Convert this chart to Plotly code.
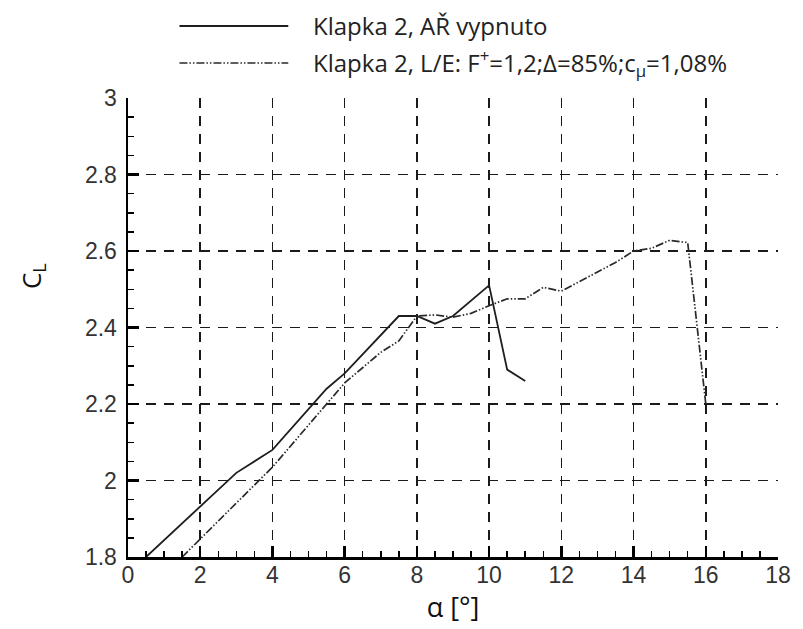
import plotly.graph_objects as go

# Lift coefficient vs. angle of attack for flap 2
alpha_off = [0.5, 3, 4, 5.5, 6, 6.5, 7, 7.5, 8, 8.5, 9, 9.5, 10, 10.5, 11]
cl_off = [1.80, 2.02, 2.08, 2.24, 2.28, 2.33, 2.38, 2.43, 2.43, 2.41, 2.43, 2.47, 2.51, 2.29, 2.26]

alpha_le = [1.5, 4, 5, 6, 7, 7.5, 8, 8.5, 9, 9.5, 10, 10.5, 11, 11.5, 12, 12.5, 13, 13.5,
            14, 14.5, 15, 15.5, 16]
cl_le = [1.80, 2.035, 2.145, 2.255, 2.335, 2.365, 2.43, 2.433, 2.427, 2.437, 2.457, 2.475,
         2.475, 2.505, 2.495, 2.52, 2.545, 2.57, 2.60, 2.607, 2.628, 2.622, 2.20]

x_range = [0, 18]
y_range = [1.8, 3.0]
x_major = [0, 2, 4, 6, 8, 10, 12, 14, 16, 18]
y_major = [1.8, 2.0, 2.2, 2.4, 2.6, 2.8, 3.0]

label_off = "Klapka 2, AŘ vypnuto"
label_le = "Klapka 2, L/E: F<sup>+</sup>=1,2;Δ=85%;c<sub>μ</sub>=1,08%"

DASHDOT = "8px,2px,1.5px,2px,1.5px,2px"
SOLID_LINE = dict(color="#1e1e1e", width=1.8)
DASHDOT_LINE = dict(color="#2a2a2a", width=1.7, dash=DASHDOT)

fig = go.Figure()
fig.add_trace(go.Scatter(x=alpha_off, y=cl_off, mode="lines", line=SOLID_LINE,
                         showlegend=False))
fig.add_trace(go.Scatter(x=alpha_le, y=cl_le, mode="lines", line=DASHDOT_LINE,
                         showlegend=False))

W, H = 803, 629
L, R, T, B = 128, 18, 98, 72
pw, ph = W - L - R, H - T - B


def px_x(x):
    return (x - L) / pw


def px_y(y):
    return (H - B - y) / ph


# legend drawn as paper-space samples and labels
legend_font = dict(family="Open Sans, Lato, sans-serif", size=24, color="#222")
rows = [(26, label_off, SOLID_LINE), (63, label_le, DASHDOT_LINE)]
for ypx, text, ln in rows:
    fig.add_shape(type="line", xref="paper", yref="paper",
                  x0=px_x(180), x1=px_x(290), y0=px_y(ypx), y1=px_y(ypx), line=ln)
    fig.add_annotation(xref="paper", yref="paper", x=px_x(313), y=px_y(ypx),
                       xanchor="left", yanchor="middle", text=text, showarrow=False,
                       font=legend_font)

# y-axis title
fig.add_annotation(xref="paper", yref="paper", x=px_x(31), y=px_y(276),
                   xanchor="center", yanchor="middle", text="C<sub>L</sub>",
                   textangle=-90, showarrow=False,
                   font=dict(family="Open Sans, Lato, sans-serif", size=26, color="#111"))

axis_style = dict(
    showline=True, linewidth=2.5, linecolor="#000000", mirror=False,
    ticks="inside", ticklen=11, tickwidth=2.5, tickcolor="#000000",
    zeroline=False,
    showgrid=True, gridcolor="#1a1a1a", gridwidth=1.5, griddash="10px,8px",
    tickfont=dict(family="Liberation Sans, Arial, sans-serif", size=23, color="#333"),
)

fig.update_xaxes(range=x_range, tickmode="array", tickvals=x_major,
                 ticktext=[f"{v:g}" for v in x_major], ticklabelstandoff=-4,
                 minor=dict(dtick=0.5, ticks="inside", ticklen=6, tickwidth=1.5,
                            tickcolor="#000000", showgrid=False),
                 title=dict(text="α [°]", standoff=8,
                            font=dict(family="Open Sans, Lato, sans-serif", size=27,
                                      color="#111")),
                 **axis_style)
fig.update_yaxes(range=y_range, tickmode="array", tickvals=y_major,
                 ticktext=[f"{v:g}" for v in y_major], ticklabelstandoff=4,
                 minor=dict(dtick=0.05, ticks="inside", ticklen=6, tickwidth=1.5,
                            tickcolor="#000000", showgrid=False),
                 **axis_style)

fig.update_layout(width=W, height=H, margin=dict(l=L, r=R, t=T, b=B),
                  plot_bgcolor="white", paper_bgcolor="white", showlegend=False)

fig.write_html("out.html", config={"staticPlot": True})
